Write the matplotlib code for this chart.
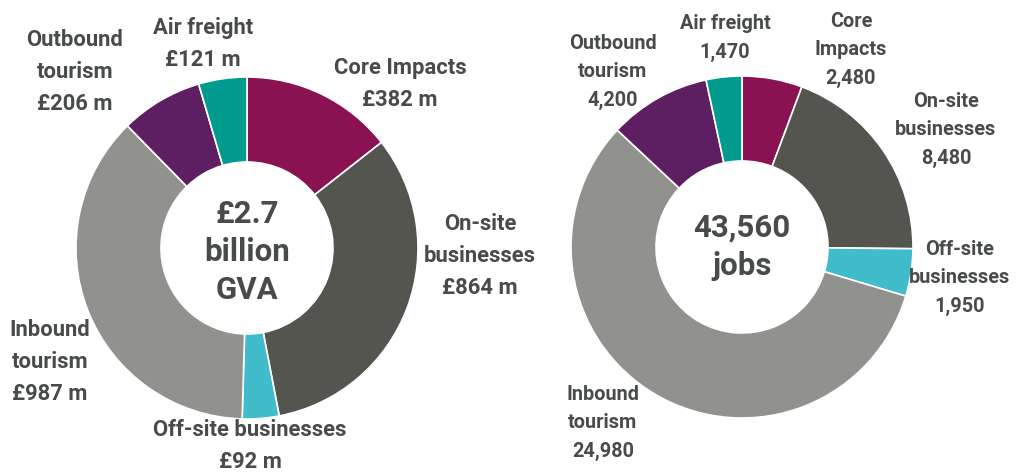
import matplotlib.pyplot as plt

categories = ['Core Impacts', 'On-site businesses', 'Off-site businesses',
              'Inbound tourism', 'Outbound tourism', 'Air freight']
gva_values = [382, 864, 92, 987, 206, 121]
jobs_values = [2480, 8480, 1950, 24980, 4200, 1470]

gva_labels = ['Core Impacts\n£382 m', 'On-site\nbusinesses\n£864 m',
              'Off-site businesses\n£92 m', 'Inbound\ntourism\n£987 m',
              'Outbound\ntourism\n£206 m', 'Air freight\n£121 m']
jobs_labels = ['Core\nImpacts\n2,480', 'On-site\nbusinesses\n8,480',
               'Off-site\nbusinesses\n1,950', 'Inbound\ntourism\n24,980',
               'Outbound\ntourism\n4,200', 'Air freight\n1,470']

colors = ['#8a1253', '#555550', '#40bccb', '#91918d', '#5e1f62', '#009a8e']
text_col = '#474c49'

plt.rcParams['font.family'] = ['Roboto', 'DejaVu Sans']
plt.rcParams['font.weight'] = 'bold'

W, H = 1026, 475
fig = plt.figure(figsize=(W / 100, H / 100), dpi=100)
ax = fig.add_axes([0, 0, 1, 1])

R = 171
ring = 85
centers = [(247, H - 248), (742, H - 247)]

for (cx, cy), vals in zip(centers, [gva_values, jobs_values]):
    ax.pie(vals, colors=colors, startangle=90, counterclock=False,
           radius=R, center=(cx, cy), frame=True,
           wedgeprops=dict(width=ring, edgecolor='white', linewidth=1.2))

# label positions in pixels (x, y from top)
gva_pos = [(400, 84), (480, 256), (250, 446), (50, 362), (75, 72), (203, 44)]
jobs_pos = [(851, 50), (946, 130), (960, 278), (603, 423), (613, 72), (725, 38)]

for lab, (x, y) in zip(gva_labels, gva_pos):
    ax.text(x, H - y, lab, ha='center', va='center', fontsize=15.8,
            color=text_col, fontweight='bold', linespacing=1.58)
for lab, (x, y) in zip(jobs_labels, jobs_pos):
    ax.text(x, H - y, lab, ha='center', va='center', fontsize=14.3,
            color=text_col, fontweight='bold', linespacing=1.62)

ax.text(centers[0][0], centers[0][1] - 4, '£2.7\nbillion\nGVA', ha='center',
        va='center', fontsize=22.5, color=text_col, fontweight='bold',
        linespacing=1.33)
ax.text(centers[1][0], centers[1][1], '43,560\njobs', ha='center',
        va='center', fontsize=22.5, color=text_col, fontweight='bold',
        linespacing=1.33)

ax.set_xlim(0, W)
ax.set_ylim(0, H)
ax.set_aspect('equal')
ax.axis('off')

fig.savefig('out.png', dpi=100, facecolor='white')
